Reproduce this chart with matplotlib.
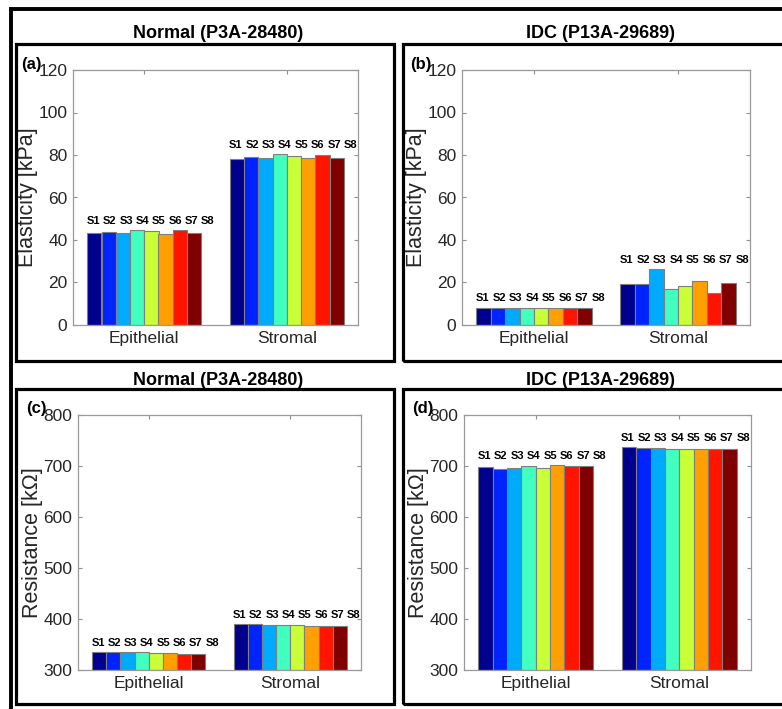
import matplotlib
matplotlib.use("Agg")
import matplotlib.pyplot as plt
import numpy as np
from matplotlib.patches import Rectangle

plt.rcParams["font.family"] = ["Liberation Sans", "DejaVu Sans"]

W, H = 782, 709

categories = ["Epithelial", "Stromal"]
samples = ["S1", "S2", "S3", "S4", "S5", "S6", "S7", "S8"]
colors = ["#00008f", "#0024ff", "#00aaff", "#40ffbf", "#c8ff37", "#ff9f00", "#ff1400", "#800000"]

# values per sample: [Epithelial, Stromal]
normal_elasticity = np.array([
    [43.1, 78.0], [43.6, 79.1], [43.1, 78.6], [44.5, 80.3],
    [44.2, 79.5], [43.0, 78.4], [44.5, 80.2], [43.3, 78.4],
])
idc_elasticity = np.array([
    [7.8, 19.3], [7.8, 19.3], [7.8, 26.2], [7.8, 17.1],
    [7.8, 18.4], [7.8, 20.5], [7.8, 15.2], [8.2, 19.8],
])
normal_resistance = np.array([
    [334.6, 389.5], [335.3, 389.5], [334.6, 388.2], [334.6, 388.2],
    [334.0, 387.6], [333.3, 386.9], [332.0, 386.9], [332.0, 386.3],
])
idc_resistance = np.array([
    [698.7, 736.6], [694.8, 736.0], [696.1, 735.3], [699.3, 734.0],
    [695.4, 734.0], [701.3, 733.3], [699.3, 732.7], [700.0, 732.7],
])

panels = [
    # (values, title, tag, ylabel, ylim, yticks, axes box in px: left, top, right, bottom)
    (normal_elasticity, "Normal (P3A-28480)", "(a)", "Elasticity [kPa]", (0, 120), np.arange(0, 121, 20), (73, 70, 358, 325)),
    (idc_elasticity, "IDC (P13A-29689)", "(b)", "Elasticity [kPa]", (0, 120), np.arange(0, 121, 20), (462, 70, 750, 325)),
    (normal_resistance, "Normal (P3A-28480)", "(c)", "Resistance [k\u03a9]", (300, 800), np.arange(300, 801, 100), (78, 415, 361, 670)),
    (idc_resistance, "IDC (P13A-29689)", "(d)", "Resistance [k\u03a9]", (300, 800), np.arange(300, 801, 100), (464, 415, 751, 670)),
]

# panel frames in px: left, top, right, bottom
frames = [(16, 44, 394, 361), (403, 44, 800, 361), (16, 389, 394, 704), (403, 389, 800, 704)]
titles_xy = [(218, 33), (600, 33), (218, 380), (600, 380)]


def fig_rect(fig, left, top, right, bottom, lw):
    fig.patches.append(Rectangle(
        (left / W, 1 - bottom / H), (right - left) / W, (bottom - top) / H,
        transform=fig.transFigure, fill=False, edgecolor="black", linewidth=lw,
    ))


fig = plt.figure(figsize=(W / 100, H / 100), dpi=100)

fig_rect(fig, 10.5, 9, 900, 900, 2.8)
for fr in frames:
    fig_rect(fig, *fr, 2.3)

bar_w = 0.1
x = np.arange(1, len(categories) + 1)
offsets = (np.arange(len(samples)) - 3.5) * bar_w

for (vals, title, tag, ylabel, ylim, yticks, box), (tx, ty) in zip(panels, titles_xy):
    l, t, r, b = box
    ax = fig.add_axes([l / W, 1 - b / H, (r - l) / W, (b - t) / H])
    base = ylim[0]
    for i, s in enumerate(samples):
        ax.bar(x + offsets[i], vals[i] - base, width=bar_w, bottom=base,
               color=colors[i], edgecolor="#7f7f7f", linewidth=0.8, zorder=2)
    # sample labels above each group
    for g in range(len(categories)):
        top = vals[:, g].max()
        for i, s in enumerate(samples):
            ax.annotate(s, (x[g] + (i - 3.5) * 0.115 + 0.045, top), xytext=(0, 3),
                        textcoords="offset points", ha="center", va="bottom",
                        fontsize=8, fontweight="bold", color="black")
    ax.set_xlim(0.5, 2.5)
    ax.set_ylim(*ylim)
    ax.set_xticks(x)
    ax.set_xticklabels(categories)
    ax.set_yticks(yticks)
    ax.tick_params(direction="in", length=3, width=0.8, color="#909090",
                   top=True, right=True, labelsize=12.5, labelcolor="#262626", pad=4)
    for sp in ax.spines.values():
        sp.set_color("#999999")
        sp.set_linewidth(0.9)
    ax.set_ylabel(ylabel, fontsize=15.5, color="#262626", labelpad=0)
    fig.text(tx / W, 1 - ty / H, title, ha="center", va="center",
             fontsize=13, fontweight="bold")
    fig.text((l - 52) / W, 1 - (t - 6) / H, tag, ha="left", va="center",
             fontsize=12, fontweight="bold")

fig.savefig("out.png", dpi=100)
